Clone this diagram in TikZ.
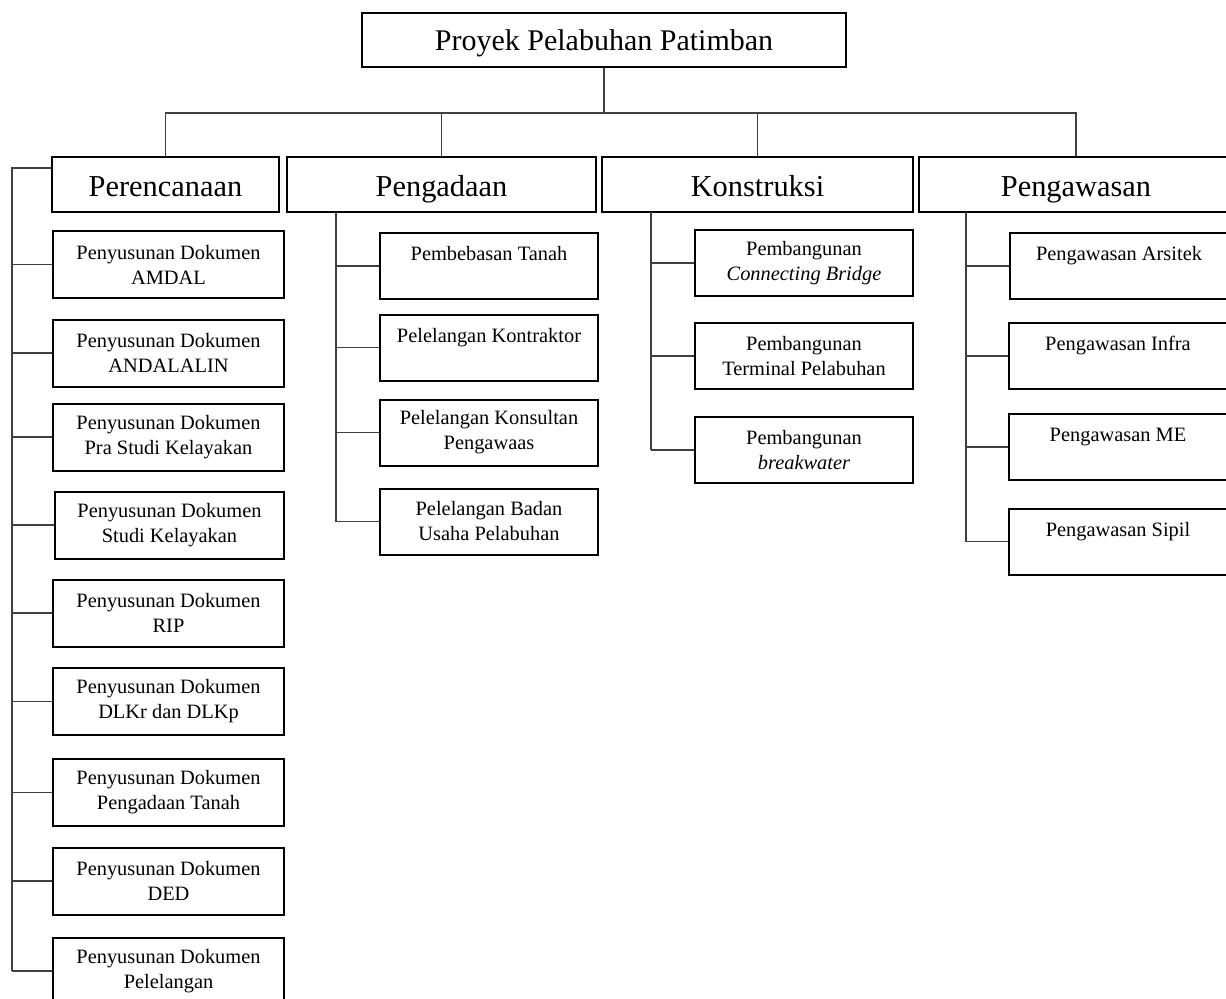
\documentclass[tikz,border=0pt]{standalone}
\usepackage{fontspec}
\setmainfont{Liberation Serif}
\begin{document}
\begin{tikzpicture}[x=0.5pt,y=-0.5pt,
    kotak/.style={draw,line width=1pt,align=center,inner sep=0pt},
    induk/.style={kotak,minimum width=242pt,minimum height=27pt,text height=11pt,text depth=1pt,font=\fontsize{15}{17}\selectfont},
    bidang/.style={kotak,minimum height=27.5pt,text height=12pt,text depth=0.5pt,font=\fontsize{15.2}{17}\selectfont},
    tugas/.style={kotak,minimum width=109pt,minimum height=33pt,font=\fontsize{10.2}{12.5}\selectfont},
    garis/.style={line width=0.6pt,black!75}]
    \useasboundingbox (0,0) rectangle (1226,998);
    % puncak
    \node[induk] (proyek) at (604,40) {Proyek Pelabuhan Patimban};
    % bidang
    \node[bidang,minimum width=113.5pt] (perencanaan) at (165.5,184.5) {Perencanaan};
    \node[bidang,minimum width=154.5pt] (pengadaan) at (441.5,184.5) {Pengadaan};
    \node[bidang,minimum width=155.5pt] (konstruksi) at (757.5,184.5) {Konstruksi};
    \node[bidang,minimum width=157pt] (pengawasan) at (1076,184.5) {Pengawasan};
    \coordinate (bus) at (604,113);
    \draw[garis] (proyek.south) -- (bus);
    \foreach \b in {perencanaan,pengadaan,konstruksi,pengawasan}
        \draw[garis] (bus) -| (\b.north);
    % perencanaan
    \node[tugas,minimum width=115.5pt,minimum height=33.5pt] (p1) at (168.5,264.5) {Penyusunan Dokumen\\AMDAL};
    \node[tugas,minimum width=115.5pt,minimum height=33.5pt] (p2) at (168.5,353) {Penyusunan Dokumen\\ANDALALIN};
    \node[tugas,minimum width=115.5pt,minimum height=33.5pt] (p3) at (168.5,437) {Penyusunan Dokumen\\Pra Studi Kelayakan};
    \node[tugas,minimum width=114.5pt,minimum height=33.5pt] (p4) at (169.5,525) {Penyusunan Dokumen\\Studi Kelayakan};
    \node[tugas,minimum width=115.5pt,minimum height=33.5pt] (p5) at (168.5,613) {Penyusunan Dokumen\\RIP};
    \node[tugas,minimum width=115.5pt,minimum height=33.5pt] (p6) at (168.5,701.5) {Penyusunan Dokumen\\DLKr dan DLKp};
    \node[tugas,minimum width=115.5pt,minimum height=33.5pt] (p7) at (168.5,792.5) {Penyusunan Dokumen\\Pengadaan Tanah};
    \node[tugas,minimum width=115.5pt,minimum height=33.5pt] (p8) at (168.5,881) {Penyusunan Dokumen\\DED};
    \node[tugas,minimum width=115.5pt,minimum height=33.5pt] (p9) at (168.5,971) {Penyusunan Dokumen\\Pelelangan};
    \coordinate (spine1) at (12,168);
    \draw[garis] (perencanaan.west |- spine1) -- (spine1) -- (spine1 |- p9.west);
    \foreach \i in {1,...,9}
        \draw[garis] (spine1 |- p\i.west) -- (p\i.west);
    % pengadaan
    \node[tugas] (a1) at (489,266) {Pembebasan Tanah\\\mbox{}};
    \node[tugas] (a2) at (489,347.5) {Pelelangan Kontraktor\\\mbox{}};
    \node[tugas] (a3) at (489,432.5) {Pelelangan Konsultan\\Pengawaas};
    \node[tugas] (a4) at (489,521.5) {Pelelangan Badan\\Usaha Pelabuhan};
    \coordinate (spine2) at (336,212);
    \draw[garis] (spine2) -- (spine2 |- a4.west);
    \foreach \i in {1,...,4}
        \draw[garis] (spine2 |- a\i.west) -- (a\i.west);
    % konstruksi
    \node[tugas] (k1) at (804,263) {Pembangunan\\\textit{Connecting Bridge}};
    \node[tugas] (k2) at (804,356) {Pembangunan\\Terminal Pelabuhan};
    \node[tugas] (k3) at (804,450) {Pembangunan\\\textit{breakwater}};
    \coordinate (spine3) at (651,212);
    \draw[garis] (spine3) -- (spine3 |- k3.west);
    \foreach \i in {1,...,3}
        \draw[garis] (spine3 |- k\i.west) -- (k\i.west);
    % pengawasan
    \node[tugas] (w1) at (1119,266) {Pengawasan Arsitek\\\mbox{}};
    \node[tugas] (w2) at (1118,356) {Pengawasan Infra\\\mbox{}};
    \node[tugas] (w3) at (1118,447) {Pengawasan ME\\\mbox{}};
    \node[tugas] (w4) at (1118,541.5) {Pengawasan Sipil\\\mbox{}};
    \coordinate (spine4) at (966,212);
    \draw[garis] (spine4) -- (spine4 |- w4.west);
    \foreach \i in {1,...,4}
        \draw[garis] (spine4 |- w\i.west) -- (w\i.west);
\end{tikzpicture}
\end{document}
